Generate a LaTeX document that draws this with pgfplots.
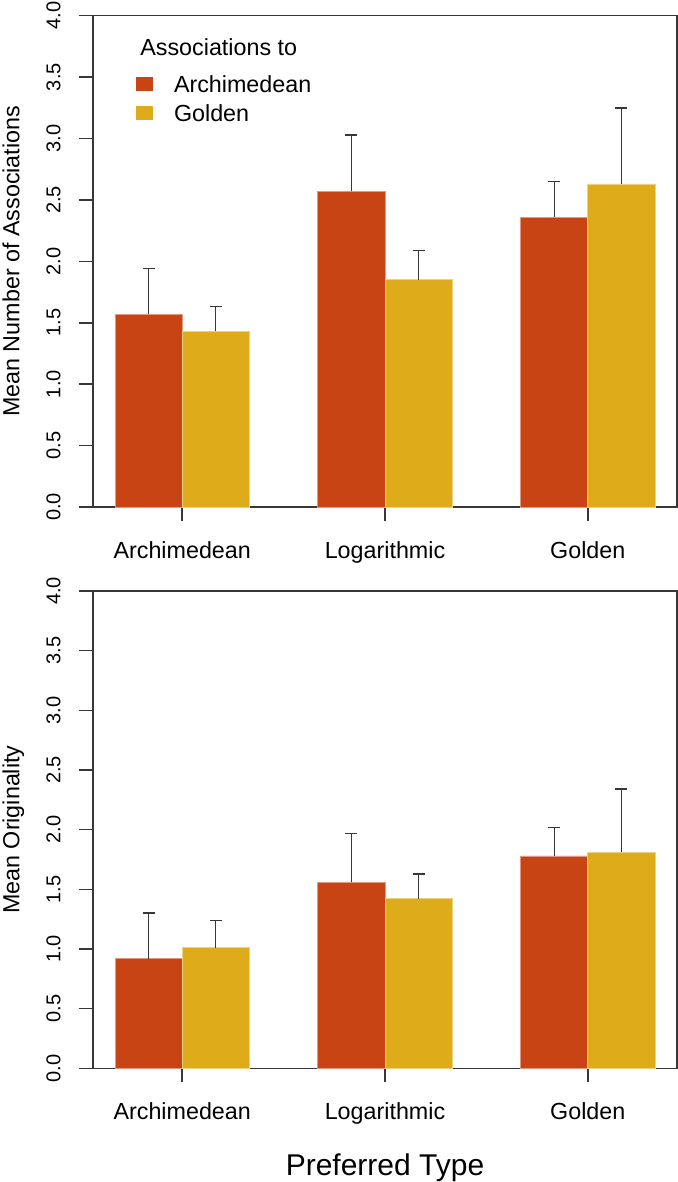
\documentclass[border=0pt]{standalone}
\usepackage{fontspec}
\setmainfont{Liberation Sans}
\usepackage{pgfplots}
\pgfplotsset{compat=1.18}

\definecolor{archi}{RGB}{201,68,20}
\definecolor{gold}{RGB}{222,172,26}
\definecolor{axisgray}{RGB}{55,55,55}

\newcommand\labelfont{\fontsize{11.65}{14}\selectfont}
\newcommand\tickfont{\fontsize{10}{12}\selectfont}

\pgfplotsset{
  panel/.style={
    scale only axis,
    width=292pt,
    xmin=-0.44, xmax=2.44,
    ymin=0, ymax=4,
    ybar=0pt, bar width=0.331,
    clip=false,
    axis line style={line width=0.75pt, axisgray},
    xtick={0,1,2},
    xticklabels={Archimedean,Logarithmic,Golden},
    ytick={0,0.5,1,1.5,2,2.5,3,3.5,4},
    tick align=outside,
    major tick length=7pt,
    xtick pos=left, ytick pos=left,
    every tick/.style={line width=0.75pt, axisgray},
    /pgf/number format/assume math mode=true,
    yticklabel={\pgfmathprintnumber[fixed,fixed zerofill,precision=1]{\tick}},
    yticklabel style={xshift=-9.25pt, rotate=90, anchor=base, inner sep=0pt, font=\tickfont},
    xticklabel style={yshift=-18.5pt, anchor=base, inner sep=0pt, font=\labelfont},
    every axis y label/.style={at={([xshift=-36.75pt]axis description cs:0,0.5)},
      rotate=90, anchor=base, inner sep=0pt, font=\labelfont},
    every axis x label/.style={at={([yshift=-53.35pt]axis description cs:0.5,0)},
      anchor=base, inner sep=0pt, font=\fontsize{15}{18}\selectfont},
    error bars/y dir=plus,
    error bars/y explicit,
    error bars/error bar style={line width=0.7pt, axisgray},
    error bars/error mark options={rotate=90, line width=0.7pt, axisgray, mark size=3pt},
  },
  archibar/.style={fill=archi, draw=archi!55!white, line width=0.4pt},
  goldbar/.style={fill=gold, draw=gold!55!white, line width=0.4pt},
}

\begin{document}
\begin{tikzpicture}
\path[use as bounding box] (0pt,0pt) rectangle (339pt,-591pt);

% upper panel: number of associations
\begin{axis}[panel,
  at={(46.5pt,-253.5pt)}, anchor=south west,
  height=245.65pt,
  ylabel={Mean Number of Associations},
  legend image code/.code={\draw[#1,draw=none] (0pt,-3.5pt) rectangle (8.65pt,3.5pt);},
  legend style={at={([xshift=21.35pt,yshift=-30.05pt]axis description cs:0,1)},
    anchor=north west, draw=none, fill=none, inner sep=0pt, outer sep=0pt,
    row sep=5.65pt, column sep=10.5pt, font=\labelfont,
    nodes={inner sep=0pt, text height=8.5pt, text depth=0pt}},
  legend cell align=left,
]
\addplot[archibar] coordinates {(0,1.57) +- (0,0.37) (1,2.57) +- (0,0.46) (2,2.36) +- (0,0.29)};
\addplot[goldbar] coordinates {(0,1.43) +- (0,0.20) (1,1.85) +- (0,0.24) (2,2.63) +- (0,0.62)};
\legend{Archimedean,Golden}
\node[anchor=base west, inner sep=0pt, font=\labelfont]
  at ([xshift=23.5pt,yshift=-20.15pt]rel axis cs:0,1) {Associations to};
\end{axis}

% lower panel: originality
\begin{axis}[panel,
  at={(46.5pt,-534.15pt)}, anchor=south west,
  height=238.65pt,
  ylabel={Mean Originality},
  xlabel={Preferred Type},
]
\addplot[archibar] coordinates {(0,0.92) +- (0,0.38) (1,1.56) +- (0,0.41) (2,1.78) +- (0,0.24)};
\addplot[goldbar] coordinates {(0,1.01) +- (0,0.23) (1,1.42) +- (0,0.21) (2,1.81) +- (0,0.53)};
\end{axis}
\end{tikzpicture}
\end{document}
